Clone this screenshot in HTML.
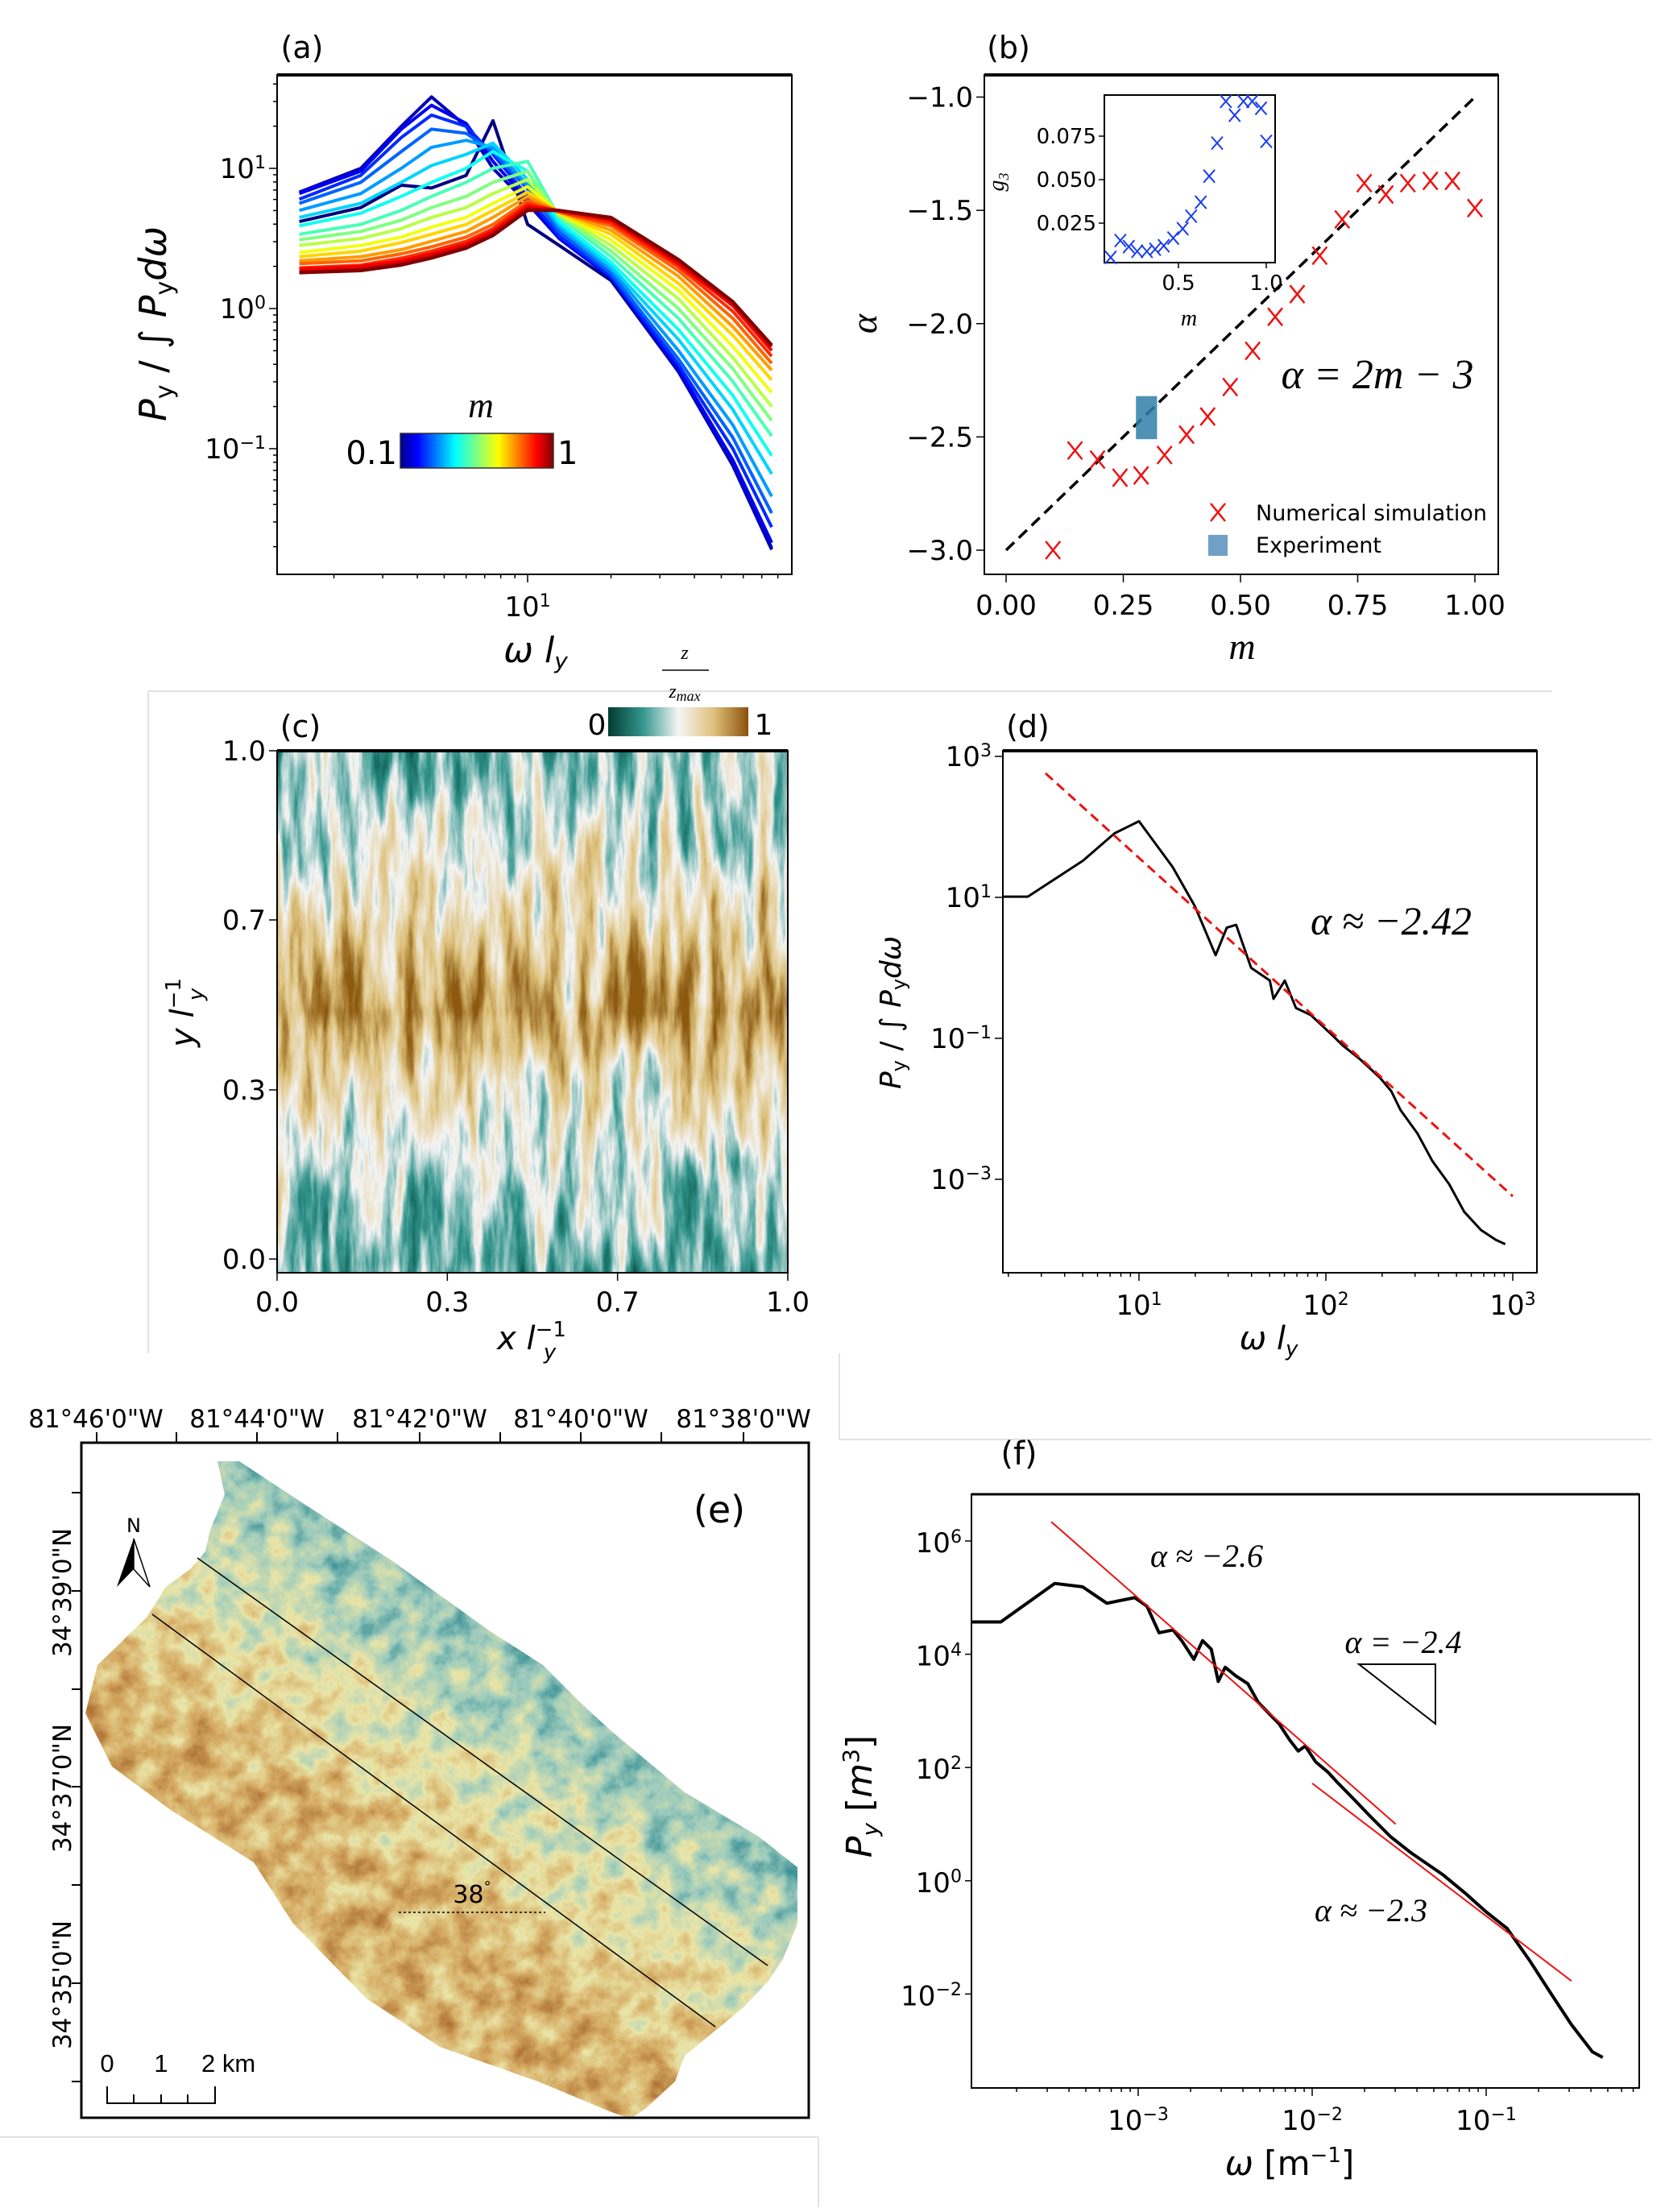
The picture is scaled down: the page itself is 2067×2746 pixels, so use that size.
<!DOCTYPE html>
<html><head><meta charset="utf-8">
<style>
html,body{margin:0;padding:0;background:#fff;}
svg{display:block;}
text{font-family:"DejaVu Sans","Liberation Sans",sans-serif;fill:#000;}
.tk{font-size:34px;}
.ser{font-family:"Liberation Serif","DejaVu Serif",serif;font-style:italic;}
.map{font-family:"Liberation Sans",sans-serif;font-size:31px;}
</style></head>
<body>
<svg id="fig" width="2067" height="2746" viewBox="0 0 2067 2746" xmlns="http://www.w3.org/2000/svg">
<defs>
<linearGradient id="jetGrad" x1="0" x2="1" y1="0" y2="0">
<stop offset="0" stop-color="#00008f"/><stop offset="0.11" stop-color="#0000ff"/><stop offset="0.36" stop-color="#00ffff"/><stop offset="0.5" stop-color="#80ff80"/><stop offset="0.64" stop-color="#ffff00"/><stop offset="0.89" stop-color="#ff0000"/><stop offset="1" stop-color="#800000"/>
</linearGradient>
<linearGradient id="brbgGrad" x1="0" x2="1" y1="0" y2="0">
<stop offset="0" stop-color="#003c30"/><stop offset="0.25" stop-color="#35978f"/><stop offset="0.5" stop-color="#f5f5f5"/><stop offset="0.75" stop-color="#dfc27d"/><stop offset="1" stop-color="#8c510a"/>
</linearGradient>
<linearGradient id="cElev" x1="0" x2="0" y1="0" y2="1">
<stop offset="0" stop-color="rgb(75,75,75)"/><stop offset="0.2" stop-color="rgb(115,115,115)"/><stop offset="0.38" stop-color="rgb(165,165,165)"/><stop offset="0.5" stop-color="rgb(205,205,205)"/><stop offset="0.6" stop-color="rgb(160,160,160)"/><stop offset="0.8" stop-color="rgb(100,100,100)"/><stop offset="1" stop-color="rgb(65,65,65)"/>
</linearGradient>
<filter id="terrC" x="0" y="0" width="1" height="1" color-interpolation-filters="sRGB">
<feTurbulence type="fractalNoise" baseFrequency="0.05 0.007" numOctaves="5" seed="7" result="n"/>
<feColorMatrix in="n" type="matrix" values="1 0 0 0 0 1 0 0 0 0 1 0 0 0 0 0 0 0 0 1" result="nn"/>
<feComposite in="SourceGraphic" in2="nn" operator="arithmetic" k1="0" k2="1" k3="0.9" k4="-0.4" result="e"/>
<feComponentTransfer in="e">
<feFuncR type="table" tableValues="0 0.21 0.96 0.87 0.55"/>
<feFuncG type="table" tableValues="0.3 0.59 0.96 0.76 0.35"/>
<feFuncB type="table" tableValues="0.25 0.56 0.96 0.49 0.06"/>
<feFuncA type="linear" slope="0" intercept="1"/>
</feComponentTransfer>
</filter>
<linearGradient id="eElev" gradientUnits="userSpaceOnUse" x1="330" y1="2580" x2="880" y2="1830">
<stop offset="0" stop-color="rgb(185,185,185)"/><stop offset="0.3" stop-color="rgb(200,200,200)"/><stop offset="0.5" stop-color="rgb(140,140,140)"/><stop offset="0.7" stop-color="rgb(80,80,80)"/><stop offset="1" stop-color="rgb(40,40,40)"/>
</linearGradient>
<filter id="terrE" x="0" y="0" width="1" height="1" color-interpolation-filters="sRGB">
<feTurbulence type="fractalNoise" baseFrequency="0.03" numOctaves="5" seed="11" result="n"/>
<feColorMatrix in="n" type="matrix" values="1 0 0 0 0 1 0 0 0 0 1 0 0 0 0 0 0 0 0 1" result="nn"/>
<feComposite in="SourceGraphic" in2="nn" operator="arithmetic" k1="0" k2="1" k3="0.6" k4="-0.3" result="e"/>
<feComponentTransfer in="e">
<feFuncR type="table" tableValues="0.16 0.25 0.62 0.92 0.84 0.68"/>
<feFuncG type="table" tableValues="0.53 0.58 0.8 0.9 0.68 0.44"/>
<feFuncB type="table" tableValues="0.58 0.6 0.74 0.66 0.4 0.2"/>
<feFuncA type="linear" slope="0" intercept="1"/>
</feComponentTransfer>
</filter>
<clipPath id="mapClip"><polygon points="270,1814 297,1814 376,1866 486,1937 607,2024 674,2067 723,2116 759,2149 850,2225 942,2280 990,2318 990,2388 972,2432 954,2459 923,2492 850,2552 838,2584 802,2617 783,2630 759,2622 668,2584 546,2541 455,2481 364,2388 315,2312 212,2247 139,2193 106,2127 121,2067 182,2008 206,1970 236,1948 255,1926 261,1899 279,1855"/></clipPath>
</defs>

<g stroke="#e2e2e2" stroke-width="2">
<line x1="184" y1="858" x2="1927" y2="858"/><line x1="184" y1="858" x2="184" y2="1680"/>
<line x1="1042" y1="1680" x2="1042" y2="1787"/><line x1="1042" y1="1787" x2="2050" y2="1787"/>
<line x1="0" y1="2653" x2="1016" y2="2653"/><line x1="1016" y1="2653" x2="1016" y2="2740"/>
</g>

<g id="pa"></g>
<g id="pb"></g>
<g id="pc">
<rect x="344" y="932" width="634" height="648" fill="url(#cElev)" filter="url(#terrC)"/>
<rect x="755" y="878" width="174" height="36" fill="url(#brbgGrad)"/>
<text x="741" y="912" font-size="36" text-anchor="middle">0</text>
<text x="948" y="912" font-size="36" text-anchor="middle">1</text>
<text x="850" y="818" font-size="24" class="ser" text-anchor="middle">z</text>
<line x1="822" y1="832" x2="880" y2="832" stroke="#000" stroke-width="1.5"/>
<text x="850" y="866" font-size="24" class="ser" text-anchor="middle">z<tspan font-size="18" dy="4">max</tspan></text>
</g>
<g id="pd"></g>
<g id="pe">
<g clip-path="url(#mapClip)"><rect x="100" y="1800" width="900" height="840" fill="url(#eElev)" filter="url(#terrE)"/></g>
<rect x="101" y="1791" width="903" height="838" fill="none" stroke="#000" stroke-width="3"/>
<line x1="245" y1="1934" x2="953" y2="2440" stroke="#000" stroke-width="1.5"/>
<line x1="189" y1="2004" x2="888" y2="2516" stroke="#000" stroke-width="1.5"/>
<line x1="495" y1="2374" x2="677" y2="2374" stroke="#000" stroke-width="1.5" stroke-dasharray="3,3"/>
<text x="586" y="2362" font-size="30" font-family="Liberation Serif" text-anchor="middle">38<tspan font-size="18" dy="-14">°</tspan></text>
<text x="166" y="1902" font-size="24" font-family="Liberation Sans" text-anchor="middle">N</text>
<polygon points="166,1910 145,1970 166,1948" fill="#000"/>
<polygon points="166,1910 186,1970 166,1948" fill="#fff" stroke="#000" stroke-width="1.5"/>
<text x="893" y="1890" font-size="46" font-family="Liberation Sans" text-anchor="middle">(e)</text>
<g stroke="#000" stroke-width="2" fill="none">
<polyline points="133,2590 133,2611 267,2611 267,2590"/><line x1="166" y1="2600" x2="166" y2="2611"/><line x1="200" y1="2600" x2="200" y2="2611"/><line x1="233" y1="2600" x2="233" y2="2611"/>
</g>
<text class="map" x="133" y="2572" text-anchor="middle">0</text><text class="map" x="200" y="2572" text-anchor="middle">1</text><text class="map" x="250" y="2572">2 km</text>
</g>
<g id="pf"></g>
</svg>

<script>
// ---------- Panel (a) data: log10 of normalized spectra ----------
const aOmega = [1.5, 2.5, 3.5, 4.5, 6, 7.5, 10, 13, 20, 35, 55, 76];
const aM = [0.10,0.15,0.20,0.25,0.30,0.35,0.40,0.45,0.50,0.55,0.60,0.65,0.70,0.75,0.80,0.85,0.90,0.95,1.00];
const aLogP = [
[0.62,0.72,0.88,0.86,0.95,1.34,0.60,0.45,0.20,-0.45,-1.10,-1.71],
[0.83,1.00,1.30,1.51,1.30,1.00,0.75,0.50,0.22,-0.45,-1.12,-1.72],
[0.82,0.98,1.28,1.45,1.32,1.05,0.77,0.50,0.22,-0.43,-1.08,-1.67],
[0.78,0.95,1.22,1.38,1.30,1.10,0.80,0.52,0.23,-0.40,-1.00,-1.56],
[0.75,0.90,1.12,1.28,1.25,1.12,0.85,0.55,0.25,-0.36,-0.92,-1.46],
[0.70,0.82,1.00,1.15,1.20,1.15,0.88,0.58,0.28,-0.30,-0.83,-1.34],
[0.65,0.75,0.90,1.02,1.10,1.18,0.92,0.60,0.30,-0.22,-0.72,-1.18],
[0.59,0.68,0.80,0.90,1.00,1.12,0.98,0.62,0.33,-0.15,-0.62,-1.05],
[0.53,0.60,0.70,0.80,0.90,1.00,1.05,0.65,0.37,-0.07,-0.52,-0.91],
[0.49,0.55,0.63,0.72,0.80,0.90,0.98,0.66,0.41,0.00,-0.43,-0.80],
[0.45,0.50,0.57,0.65,0.72,0.82,0.92,0.67,0.45,0.07,-0.35,-0.70],
[0.40,0.45,0.51,0.58,0.65,0.75,0.87,0.68,0.49,0.13,-0.27,-0.60],
[0.37,0.41,0.47,0.53,0.60,0.70,0.83,0.68,0.53,0.18,-0.19,-0.51],
[0.34,0.37,0.42,0.48,0.55,0.65,0.80,0.69,0.56,0.23,-0.13,-0.44],
[0.32,0.34,0.39,0.44,0.51,0.60,0.77,0.69,0.59,0.27,-0.07,-0.39],
[0.29,0.31,0.36,0.41,0.48,0.57,0.75,0.69,0.61,0.30,-0.02,-0.34],
[0.28,0.30,0.34,0.39,0.46,0.55,0.73,0.70,0.63,0.32,0.02,-0.30],
[0.26,0.28,0.32,0.37,0.44,0.53,0.71,0.70,0.64,0.34,0.04,-0.27],
[0.255,0.27,0.31,0.36,0.43,0.52,0.70,0.70,0.65,0.35,0.05,-0.26]
];
const aYTicks = [-1, 0, 1];
const aXTicks = [1];

// ---------- Panel (b) data ----------
const bM = [0.10,0.147,0.195,0.243,0.288,0.338,0.385,0.43,0.478,0.526,0.574,0.621,0.669,0.717,0.764,0.81,0.857,0.905,0.952,1.0];
const bAlpha = [-3.0,-2.56,-2.60,-2.68,-2.67,-2.58,-2.49,-2.41,-2.28,-2.12,-1.97,-1.87,-1.70,-1.54,-1.38,-1.43,-1.38,-1.37,-1.37,-1.49];
const bExpM = [0.277, 0.322];
const bExpAlpha = [-2.51, -2.32];
const bXTicks = [0, 0.25, 0.5, 0.75, 1.0];
const bYTicks = [-1.0, -1.5, -2.0, -2.5, -3.0];
const insetM = [0.114,0.169,0.217,0.265,0.32,0.367,0.416,0.47,0.524,0.572,0.627,0.675,0.72,0.77,0.82,0.87,0.92,0.97,1.0];
const insetG3 = [0.0053,0.015,0.0115,0.0088,0.0088,0.010,0.012,0.0164,0.0218,0.029,0.037,0.052,0.071,0.095,0.087,0.095,0.095,0.091,0.072];
const insetYTicks = [0.025, 0.05, 0.075];
const insetXTicks = [0.5, 1.0];

// ---------- Panel (d) data (log10) ----------
const dLogW = [0.274,0.405,0.70,0.87,1.0,1.18,1.30,1.41,1.47,1.52,1.60,1.70,1.72,1.78,1.84,1.92,2.04,2.09,2.18,2.29,2.35,2.40,2.49,2.57,2.66,2.74,2.83,2.91,2.96];
const dLogP = [1.01,1.01,1.52,1.91,2.08,1.43,0.87,0.18,0.57,0.61,0.0,-0.18,-0.44,-0.18,-0.57,-0.67,-0.97,-1.10,-1.29,-1.56,-1.75,-2.02,-2.35,-2.74,-3.07,-3.46,-3.72,-3.86,-3.92];
const dFitLogW = [0.5, 3.0];
const dFitLogP = [2.76, -3.24];
const dYTicks = [3, 1, -1, -3];
const dXTicks = [1, 2, 3];

// ---------- Panel (f) data (log10) ----------
const fLogW = [-3.96,-3.79,-3.48,-3.32,-3.18,-3.02,-2.95,-2.88,-2.80,-2.75,-2.68,-2.63,-2.58,-2.54,-2.50,-2.44,-2.37,-2.31,-2.25,-2.19,-2.13,-2.08,-2.04,-1.98,-1.91,-1.85,-1.76,-1.67,-1.55,-1.43,-1.25,-1.12,-1.0,-0.88,-0.75,-0.63,-0.51,-0.39,-0.33];
const fLogP = [4.57,4.57,5.25,5.19,4.90,5.0,4.85,4.38,4.43,4.24,3.91,4.24,4.09,3.52,3.77,3.62,3.48,3.15,2.96,2.77,2.49,2.29,2.38,2.10,1.92,1.72,1.44,1.15,0.78,0.49,0.11,-0.22,-0.55,-0.84,-1.41,-1.98,-2.54,-3.02,-3.12];
const fFit1LogW = [-3.5, -1.52];
const fFit1LogP = [6.34, 1.0];
const fFit2LogW = [-2.0, -0.51];
const fFit2LogP = [1.72, -1.77];
const fYTicks = [6, 4, 2, 0, -2];
const fXTicks = [-3, -2, -1];

const NS = 'http://www.w3.org/2000/svg';
function mk(tag, attrs, parent){ const e=document.createElementNS(NS,tag); for(const k in attrs) e.setAttribute(k,attrs[k]); parent.appendChild(e); return e; }
function txt(parent, x, y, s, size, anchor, extra){ const t=mk('text',Object.assign({x:x,y:y,'font-size':size,'text-anchor':anchor||'middle'},extra||{}),parent); t.innerHTML=s; return t; }
function jet(t){ const c=v=>Math.round(255*Math.max(0,Math.min(1,v))); return 'rgb('+c(1.5-Math.abs(4*t-3))+','+c(1.5-Math.abs(4*t-2))+','+c(1.5-Math.abs(4*t-1))+')'; }
const L10=Math.log10;
function sup(base, exp){ return base+'<tspan font-size="0.65em" dy="-0.55em">'+exp+'</tspan>'; }

// ===== Panel (a) =====
(function(){
  const g=document.getElementById('pa');
  const X0=344,X1=983,Y0=93,Y1=713;
  const xa=w=>655+(L10(w)-1)*344;
  const ya=l=>209-(l-1)*174;
  for(let i=0;i<aM.length;i++){
    const pts=aOmega.map((w,j)=>xa(w).toFixed(1)+','+ya(aLogP[i][j]).toFixed(1)).join(' ');
    const p=mk('polyline',{points:pts,fill:'none',stroke:jet(i/(aM.length-1)),'stroke-width':4,'stroke-linejoin':'round'},g);
    
    
  }
  const fr=mk('rect',{x:X0,y:Y0,width:X1-X0,height:Y1-Y0,fill:'none',stroke:'#000','stroke-width':2},g);
  
  
  mk('line',{x1:X0,y1:Y0,x2:X1,y2:Y0,stroke:'#000','stroke-width':4},g);
  for(let d=-2;d<=1;d++){ for(let k=1;k<10;k++){ const v=d+L10(k); const y=ya(v); if(y<Y0||y>Y1) continue; mk('line',{x1:X0,y1:y,x2:X0-(k==1?10:5),y2:y,stroke:'#000','stroke-width':1.5},g);} }
  aYTicks.forEach(t=>{ const e=txt(g,X0-14,ya(t)+12,sup('10',t<0?'−'+(-t):t),34,'end');   });
  for(let d=0;d<=1;d++){ for(let k=1;k<10;k++){ const x=xa(k*Math.pow(10,d)); if(x<X0||x>X1) continue; mk('line',{x1:x,y1:Y1,x2:x,y2:Y1+(k==1?10:5),stroke:'#000','stroke-width':1.5},g);} }
  aXTicks.forEach(t=>{ const e=txt(g,xa(Math.pow(10,t)),Y1+52,sup('10',t),34,'middle');   });
  const lab=txt(g,375,72,'(a)',38,'middle');  
  const xl=txt(g,665,822,'<tspan font-style="italic">ω l</tspan><tspan font-style="italic" font-size="28" dy="8">y</tspan>',44,'middle');  
  const yl=txt(g,0,0,'<tspan font-style="italic">P</tspan><tspan font-size="30" dy="8">y</tspan><tspan dy="-8"> / ∫ </tspan><tspan font-style="italic">P</tspan><tspan font-size="30" dy="8">y</tspan><tspan dy="-8" font-style="italic">dω</tspan>',46,'middle',{transform:'translate(206,402) rotate(-90)'});  
  const cb=mk('rect',{x:497,y:538,width:190,height:43,fill:'url(#jetGrad)',stroke:'#333','stroke-width':1.5},g);  
  const c0=txt(g,493,576,'0.1',40,'end',{'font-family':'Liberation Serif'});  
  const c1=txt(g,692,576,'1',40,'start',{'font-family':'Liberation Serif'});  
  const cm=txt(g,597,518,'m',44,'middle',{class:'ser'});  
})();

// ===== Panel (b) =====
(function(){
  const g=document.getElementById('pb');
  const X0=1222,X1=1860,Y0=93,Y1=713;
  const xb=m=>1249+m*582;
  const yb=a=>120.5+(-1-a)*281.25;
  const fr=mk('rect',{x:X0,y:Y0,width:X1-X0,height:Y1-Y0,fill:'none',stroke:'#000','stroke-width':2},g);
   
  mk('line',{x1:X0,y1:Y0,x2:X1,y2:Y0,stroke:'#000','stroke-width':4},g);
  bXTicks.forEach(t=>{ mk('line',{x1:xb(t),y1:Y1,x2:xb(t),y2:Y1+10,stroke:'#000','stroke-width':1.5},g); const e=txt(g,xb(t),Y1+50,t.toFixed(2),34,'middle');   });
  bYTicks.forEach(t=>{ mk('line',{x1:X0,y1:yb(t),x2:X0-10,y2:yb(t),stroke:'#000','stroke-width':1.5},g); const e=txt(g,X0-14,yb(t)+12,'−'+(-t).toFixed(1),34,'end');   });
  const fit=mk('line',{x1:xb(0),y1:yb(-3),x2:xb(1),y2:yb(-1),stroke:'#000','stroke-width':3.5,'stroke-dasharray':'14,8'},g);
   
  const ex=mk('rect',{x:xb(bExpM[0]),y:yb(bExpAlpha[1]),width:xb(bExpM[1])-xb(bExpM[0]),height:yb(bExpAlpha[0])-yb(bExpAlpha[1]),fill:'#2f7fa8','fill-opacity':0.85},g);
   
  bM.forEach((m,i)=>{ const x=xb(m),y=yb(bAlpha[i]); const p=mk('path',{d:`M${x-9},${y-11}L${x+9},${y+11}M${x+9},${y-11}L${x-9},${y+11}`,stroke:'#ee1111','stroke-width':2.5,fill:'none'},g);   });
  const eq=txt(g,1710,482,'α = 2<tspan>m</tspan> − 3',52,'middle',{class:'ser'});  
  const lx=1512;
  mk('path',{d:`M${lx-9},${636-11}L${lx+9},${636+11}M${lx+9},${636-11}L${lx-9},${636+11}`,stroke:'#ee1111','stroke-width':2.5},g);
  const l1=txt(g,1559,646,'Numerical simulation',27,'start');  
  mk('rect',{x:lx-12,y:664,width:24,height:26,fill:'#6fa0c8'},g);
  const l2=txt(g,1559,686,'Experiment',27,'start');  
  const xl=txt(g,1542,818,'m',46,'middle',{class:'ser'});  
  const yl=txt(g,0,0,'α',46,'middle',{class:'ser',transform:'translate(1088,402) rotate(-90)'});  
  const lab=txt(g,1252,72,'(b)',38,'middle');  
  const IX0=1371,IX1=1583,IY0=118,IY1=326;
  const xi=m=>1463+(m-0.5)*218;
  const yi=v=>169+(0.075-v)*2160;
  const ib=mk('rect',{x:IX0,y:IY0,width:IX1-IX0,height:IY1-IY0,fill:'#fff',stroke:'#000','stroke-width':2},g);
   
  insetYTicks.forEach(t=>{ mk('line',{x1:IX0,y1:yi(t),x2:IX0-7,y2:yi(t),stroke:'#000','stroke-width':1.5},g); const e=txt(g,IX0-10,yi(t)+9,t.toFixed(3),26,'end');   });
  insetXTicks.forEach(t=>{ mk('line',{x1:xi(t),y1:IY1,x2:xi(t),y2:IY1+7,stroke:'#000','stroke-width':1.5},g); const e=txt(g,xi(t),IY1+34,t.toFixed(1),26,'middle');   });
  insetM.forEach((m,i)=>{ const x=xi(m),y=yi(insetG3[i]); const p=mk('path',{d:`M${x-7},${y-8}L${x+7},${y+8}M${x+7},${y-8}L${x-7},${y+8}`,stroke:'#1a3cf0','stroke-width':2},g);   });
  const il=txt(g,1476,404,'m',28,'middle',{class:'ser'});  
  const iy=txt(g,0,0,'g<tspan font-size="18" dy="6">3</tspan>',28,'middle',{class:'ser',transform:'translate(1246,226) rotate(-90)'});  
})();

// ===== Panel (c) axes =====
(function(){
  const g=document.getElementById('pc');
  const X0=344,X1=978,Y0=932,Y1=1580;
  const fr=mk('rect',{x:X0,y:Y0,width:X1-X0,height:Y1-Y0,fill:'none',stroke:'#000','stroke-width':2},g);
   
  mk('line',{x1:X0,y1:Y0,x2:X1,y2:Y0,stroke:'#000','stroke-width':4},g);
  const labs=['0.0','0.3','0.7','1.0'];
  const ys=[1563,1353,1142,932];
  labs.forEach((s,i)=>{ const x=X0+i*(X1-X0)/3; mk('line',{x1:x,y1:Y1,x2:x,y2:Y1+10,stroke:'#000','stroke-width':1.5},g); const e=txt(g,x,Y1+48,s,34,'middle');  
    mk('line',{x1:X0,y1:ys[i],x2:X0-10,y2:ys[i],stroke:'#000','stroke-width':1.5},g); const f=txt(g,X0-14,ys[i]+12,s,34,'end');   });
  const xl=txt(g,660,1675,'<tspan font-style="italic">x l</tspan><tspan font-size="26" dy="-16">−1</tspan><tspan font-size="26" font-style="italic" dx="-28" dy="28">y</tspan>',40,'middle');  
  const yl=txt(g,0,0,'<tspan font-style="italic">y l</tspan><tspan font-size="26" dy="-16">−1</tspan><tspan font-size="26" font-style="italic" dx="-28" dy="28">y</tspan>',40,'middle',{transform:'translate(240,1257) rotate(-90)'});  
  const lab=txt(g,373,915,'(c)',38,'middle');  
})();

// ===== Panel (d) =====
(function(){
  const g=document.getElementById('pd');
  const X0=1245,X1=1908,Y0=932,Y1=1580;
  const xd=l=>1414+(l-1)*232;
  const yd=l=>939-(l-3)*87.5;
  const fr=mk('rect',{x:X0,y:Y0,width:X1-X0,height:Y1-Y0,fill:'none',stroke:'#000','stroke-width':2},g);
   
  mk('line',{x1:X0,y1:Y0,x2:X1,y2:Y0,stroke:'#000','stroke-width':4},g);
  for(let d=0;d<=3;d++){ for(let k=1;k<10;k++){ const x=xd(d+L10(k)); if(x<X0||x>X1) continue; mk('line',{x1:x,y1:Y1,x2:x,y2:Y1+(k==1?10:5),stroke:'#000','stroke-width':1.5},g);} }
  dXTicks.forEach(t=>{ const e=txt(g,xd(t),Y1+52,sup('10',t),34,'middle');   });
  dYTicks.forEach(t=>{ mk('line',{x1:X0,y1:yd(t),x2:X0-10,y2:yd(t),stroke:'#000','stroke-width':1.5},g); const e=txt(g,X0-14,yd(t)+12,sup('10',t<0?'−'+(-t):t),34,'end');   });
  const pts=dLogW.map((w,i)=>xd(w).toFixed(1)+','+yd(dLogP[i]).toFixed(1)).join(' ');
  const s=mk('polyline',{points:pts,fill:'none',stroke:'#000','stroke-width':3,'stroke-linejoin':'round'},g);
   
  const f=mk('line',{x1:xd(dFitLogW[0]),y1:yd(dFitLogP[0]),x2:xd(dFitLogW[1]),y2:yd(dFitLogP[1]),stroke:'#ee1111','stroke-width':3,'stroke-dasharray':'12,7'},g);
   
  const a=txt(g,1727,1160,'α ≈ −2.42',50,'middle',{class:'ser'});  
  const xl=txt(g,1575,1675,'<tspan font-style="italic">ω l</tspan><tspan font-style="italic" font-size="26" dy="8">y</tspan>',40,'middle');  
  const yl=txt(g,0,0,'<tspan font-style="italic">P</tspan><tspan font-size="24" dy="6">y</tspan><tspan dy="-6"> / ∫ </tspan><tspan font-style="italic">P</tspan><tspan font-size="24" dy="6">y</tspan><tspan dy="-6" font-style="italic">dω</tspan>',36,'middle',{transform:'translate(1118,1257) rotate(-90)'});  
  const lab=txt(g,1276,915,'(d)',38,'middle');  
})();

// ===== Panel (e) axes text =====
(function(){
  const g=document.getElementById('pe');
  const lons=['81°46\'0"W','81°44\'0"W','81°42\'0"W','81°40\'0"W','81°38\'0"W'];
  const lonX=[119,319,521,721,923];
  lons.forEach((s,i)=>{ const e=txt(g,lonX[i],1772,s,31,'middle',{'font-family':'Liberation Sans'});   });
  [120,219,319,419,521,621,721,821,923].forEach(x=>mk('line',{x1:x,y1:1778,x2:x,y2:1791,stroke:'#000','stroke-width':2},g));
  const lats=['34°39\'0"N','34°37\'0"N','34°35\'0"N'];
  const latY=[1977,2220,2464];
  lats.forEach((s,i)=>{ const e=txt(g,0,0,s,31,'middle',{'font-family':'Liberation Sans',transform:'translate(88,'+latY[i]+') rotate(-90)'});   });
  [1853,1975,2097,2218,2340,2462,2584].forEach(y=>mk('line',{x1:89,y1:y,x2:101,y2:y,stroke:'#000','stroke-width':2},g));
})();

// ===== Panel (f) =====
(function(){
  const g=document.getElementById('pf');
  const X0=1206,X1=2035,Y0=1855,Y1=2592;
  const xf=l=>1413+(l+3)*216;
  const yf=l=>1913-(l-6)*70.3;
  const fr=mk('rect',{x:X0,y:Y0,width:X1-X0,height:Y1-Y0,fill:'none',stroke:'#000','stroke-width':2},g);
   
  mk('line',{x1:X0,y1:Y0,x2:X1,y2:Y0,stroke:'#000','stroke-width':3},g);
  for(let d=-4;d<=-1;d++){ for(let k=1;k<10;k++){ const x=xf(d+L10(k)); if(x<X0||x>X1) continue; mk('line',{x1:x,y1:Y1,x2:x,y2:Y1+(k==1?10:5),stroke:'#000','stroke-width':1.5},g);} }
  fXTicks.forEach(t=>{ const e=txt(g,xf(t),Y1+52,sup('10','−'+(-t)),34,'middle',{'font-family':'Liberation Sans'});   });
  fYTicks.forEach(t=>{ mk('line',{x1:X0,y1:yf(t),x2:X0-8,y2:yf(t),stroke:'#000','stroke-width':1.5},g); const e=txt(g,X0-12,yf(t)+14,sup('10',t<0?'−'+(-t):t),34,'end',{'font-family':'Liberation Sans'});   });
  const pts=fLogW.map((w,i)=>xf(w).toFixed(1)+','+yf(fLogP[i]).toFixed(1)).join(' ');
  const s=mk('polyline',{points:pts,fill:'none',stroke:'#000','stroke-width':4,'stroke-linejoin':'round'},g);
   
  const f1=mk('line',{x1:xf(fFit1LogW[0]),y1:yf(fFit1LogP[0]),x2:xf(fFit1LogW[1]),y2:yf(fFit1LogP[1]),stroke:'#ee1111','stroke-width':2},g);
   
  const f2=mk('line',{x1:xf(fFit2LogW[0]),y1:yf(fFit2LogP[0]),x2:xf(fFit2LogW[1]),y2:yf(fFit2LogP[1]),stroke:'#ee1111','stroke-width':2},g);
   
  const tri=mk('polygon',{points:'1687,2066 1782,2066 1782,2140',fill:'none',stroke:'#000','stroke-width':2},g);
   
  const a1=txt(g,1498,1945,'α ≈ −2.6',40,'middle',{class:'ser'});  
  const a2=txt(g,1742,2052,'α = −2.4',40,'middle',{class:'ser'});  
  const a3=txt(g,1702,2385,'α ≈ −2.3',40,'middle',{class:'ser'});  
  const xl=txt(g,1601,2700,'<tspan font-style="italic">ω</tspan> [m<tspan font-size="26" dy="-16">−1</tspan><tspan dy="16">]</tspan>',42,'middle',{'font-family':'Liberation Serif'});  
  const yl=txt(g,0,0,'<tspan font-style="italic">P</tspan><tspan font-size="28" font-style="italic" dy="8">y</tspan><tspan dy="-8"> [</tspan><tspan font-style="italic">m</tspan><tspan font-size="28" dy="-16">3</tspan><tspan dy="16">]</tspan>',44,'middle',{'font-family':'Liberation Serif',transform:'translate(1082,2230) rotate(-90)'});  
  const lab=txt(g,1265,1818,'(f)',40,'middle');  
})();
</script>
</body></html>
